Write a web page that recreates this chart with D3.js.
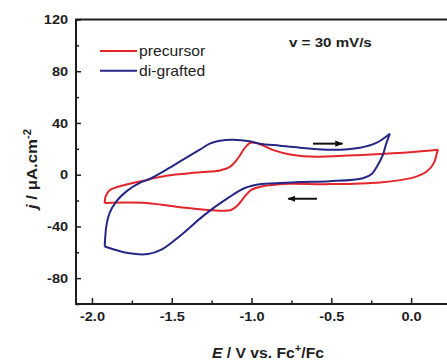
<!DOCTYPE html>
<html>
<head>
<meta charset="utf-8">
<script src="https://cdn.jsdelivr.net/npm/d3@7"></script>
<style>
    body { margin: 0; background: #fff; }
    svg { display: block; font-family: "Liberation Sans", Arial, sans-serif; }
</style>
</head>
<body>
<svg id="chart" width="447" height="361"></svg>
<script>
"use strict";

// precursor: cathodic branch (right vertex -> left vertex), then anodic branch back
var precursorCathodic = [
    [0.169, 19.3], [0.162, 17.0], [0.144, 9.3], [0.100, 2.6], [0.012, -2.3],
    [-0.195, -6.0], [-0.509, -7.3], [-0.760, -7.0], [-0.854, -7.7], [-0.937, -9.1],
    [-1.000, -11.6], [-1.042, -16.8], [-1.084, -23.2], [-1.125, -27.1], [-1.188, -27.9],
    [-1.293, -27.1], [-1.398, -25.8], [-1.565, -23.2], [-1.660, -21.9], [-1.774, -21.6],
    [-1.920, -21.9]
];
var precursorAnodic = [
    [-1.920, -21.9], [-1.914, -16.8], [-1.889, -12.1], [-1.826, -9.0], [-1.743, -6.4],
    [-1.638, -3.5], [-1.533, -0.8], [-1.324, 1.8], [-1.199, 3.3], [-1.136, 6.0],
    [-1.084, 12.9], [-1.042, 20.7], [-1.011, 24.5], [-0.969, 24.5], [-0.917, 21.9],
    [-0.854, 18.6], [-0.750, 15.5], [-0.590, 13.9], [-0.277, 15.5], [0.012, 17.6],
    [0.169, 19.3]
];

// di-grafted
var graftedCathodic = [
    [-0.133, 31.7], [-0.215, 24.8], [-0.320, 20.9], [-0.490, 19.3], [-0.697, 20.9],
    [-0.822, 22.4], [-0.949, 24.0], [-1.011, 25.8], [-1.115, 27.1], [-1.199, 26.3],
    [-1.262, 24.0], [-1.324, 19.3], [-1.429, 11.6], [-1.533, 3.9], [-1.638, -3.3],
    [-1.701, -6.4], [-1.784, -12.9], [-1.847, -20.7], [-1.889, -29.6], [-1.910, -40.0],
    [-1.920, -55.5]
];
var graftedAnodic = [
    [-1.920, -55.5], [-1.774, -60.6], [-1.649, -61.4], [-1.565, -58.0], [-1.439, -46.4],
    [-1.293, -30.9], [-1.147, -18.0], [-1.042, -10.3], [-0.937, -7.2], [-0.854, -6.6],
    [-0.697, -5.6], [-0.509, -5.0], [-0.302, -2.7], [-0.245, 0.8], [-0.215, 6.2],
    [-0.176, 15.5], [-0.158, 23.2], [-0.133, 31.7]
];

var xTicks = [-2.0, -1.5, -1.0, -0.5, 0.0];
var xMinorTicks = [-1.75, -1.25, -0.75, -0.25];
var yTicks = [-80, -40, 0, 40, 80, 120];
var yMinorTicks = [-100, -60, -20, 20, 60, 100];

// scan direction arrows [fromE, toE, j]
var arrows = [
    [-0.615, -0.43, 24],
    [-0.59, -0.77, -18.6]
];

var series = [
    {name: 'precursor', color: '#e2262b', branches: [precursorCathodic, precursorAnodic]},
    {name: 'di-grafted', color: '#262687', branches: [graftedCathodic, graftedAnodic]}
];

var stretch = 'scale(1.12,1)';
var ink = '#1e1e1e';

var svg = d3.select('#chart');
var x = d3.scaleLinear().domain([-2.1, 0.25]).range([76, 451]);
var y = d3.scaleLinear().domain([-100, 120]).range([304, 19.5]);

var line = d3.line()
             .x(function(d) { return x(d[0]); })
             .y(function(d) { return y(d[1]); })
             .curve(d3.curveCatmullRom.alpha(0.5));

// curves
series.forEach(function(s) {
    svg.append('g')
       .selectAll('path')
       .data(s.branches)
       .enter()
       .append('path')
           .attr('d', line)
           .attr('fill', 'none')
           .attr('stroke', s.color)
           .attr('stroke-width', 2)
           .attr('stroke-linejoin', 'round');
});

// frame
svg.append('rect')
   .attr('x', x.range()[0])
   .attr('y', y.range()[1])
   .attr('width', x.range()[1] - x.range()[0])
   .attr('height', y.range()[0] - y.range()[1])
   .attr('fill', 'none')
   .attr('stroke', ink)
   .attr('stroke-width', 2);

var hyphen = function(fmt) {
    return function(d) { return fmt(d).replace('\u2212', '-'); };
};

// axes, ticks inward
svg.append('g')
   .attr('transform', 'translate(0,' + y.range()[0] + ')')
   .call(d3.axisBottom(x).tickValues(xTicks).tickSizeInner(-6).tickSizeOuter(0)
           .tickPadding(8).tickFormat(hyphen(d3.format('.1f'))));
svg.append('g')
   .attr('transform', 'translate(0,' + y.range()[0] + ')')
   .call(d3.axisBottom(x).tickValues(xMinorTicks).tickSizeInner(-3.5).tickSizeOuter(0).tickFormat(''));

svg.append('g')
   .attr('transform', 'translate(' + x.range()[0] + ',0)')
   .call(d3.axisLeft(y).tickValues(yTicks).tickSizeInner(-5).tickSizeOuter(0)
           .tickPadding(7).tickFormat(hyphen(d3.format('d'))));
svg.append('g')
   .attr('transform', 'translate(' + x.range()[0] + ',0)')
   .call(d3.axisLeft(y).tickValues(yMinorTicks).tickSizeInner(-3).tickSizeOuter(0).tickFormat(''));

svg.selectAll('.domain').remove();
svg.selectAll('.tick line').attr('stroke', ink).attr('stroke-width', 1.5);
svg.selectAll('.tick text')
   .attr('font-family', '"Liberation Sans", Arial, sans-serif')
   .attr('font-size', 13)
   .attr('font-weight', 'bold')
   .attr('fill', ink)
   .attr('transform', stretch);

// arrows
svg.append('defs')
   .append('marker')
       .attr('id', 'head')
       .attr('viewBox', '0 0 10 10')
       .attr('refX', 9).attr('refY', 5)
       .attr('markerWidth', 4).attr('markerHeight', 4)
       .attr('orient', 'auto')
       .append('path')
           .attr('d', 'M0,1 L10,5 L0,9 z')
           .attr('fill', '#111');

svg.append('g')
   .selectAll('line')
   .data(arrows)
   .enter()
   .append('line')
       .attr('x1', function(d) { return x(d[0]); })
       .attr('x2', function(d) { return x(d[1]); })
       .attr('y1', function(d) { return y(d[2]); })
       .attr('y2', function(d) { return y(d[2]); })
       .attr('stroke', '#111')
       .attr('stroke-width', 2)
       .attr('marker-end', 'url(#head)');

// legend
var legend = svg.append('g').attr('transform', 'translate(100,51)');
var item = legend.selectAll('.legend-item')
                 .data(series)
                 .enter()
                 .append('g')
                     .attr('class', 'legend-item')
                     .attr('transform', function(d, i) { return 'translate(0,' + i * 19.7 + ')'; });
item.append('line')
    .attr('x1', 0).attr('x2', 37)
    .attr('stroke', function(d) { return d.color; })
    .attr('stroke-width', 2);
item.append('g')
    .attr('transform', 'translate(39,0) ' + stretch)
    .append('text')
        .attr('dy', '0.36em')
        .attr('font-size', 14)
        .attr('fill', '#222')
        .text(function(d) { return d.name; });

svg.append('g')
   .attr('transform', 'translate(289,47) ' + stretch)
   .append('text')
       .attr('font-size', 13.5)
       .attr('font-weight', 'bold')
       .attr('fill', ink)
       .text('v = 30 mV/s');

// axis titles
var xTitle = svg.append('g')
                .attr('transform', 'translate(268,358) ' + stretch)
                .append('text')
                    .attr('text-anchor', 'middle')
                    .attr('font-size', 14)
                    .attr('font-weight', 'bold')
                    .attr('fill', ink);
xTitle.append('tspan').attr('font-style', 'italic').text('E');
xTitle.append('tspan').text(' / V vs. Fc');
xTitle.append('tspan').attr('dy', -6).attr('font-size', 10).text('+');
xTitle.append('tspan').attr('dy', 6).text('/Fc');

var yTitle = svg.append('g')
                .attr('transform', 'translate(37,169) rotate(-90) ' + stretch)
                .append('text')
                    .attr('text-anchor', 'middle')
                    .attr('font-size', 15)
                    .attr('font-weight', 'bold')
                    .attr('fill', ink);
yTitle.append('tspan').attr('font-style', 'italic').text('j');
yTitle.append('tspan').text(' / \u03bcA.cm');
yTitle.append('tspan').attr('dy', -6).attr('font-size', 10).text('-2');
</script>
</body>
</html>
